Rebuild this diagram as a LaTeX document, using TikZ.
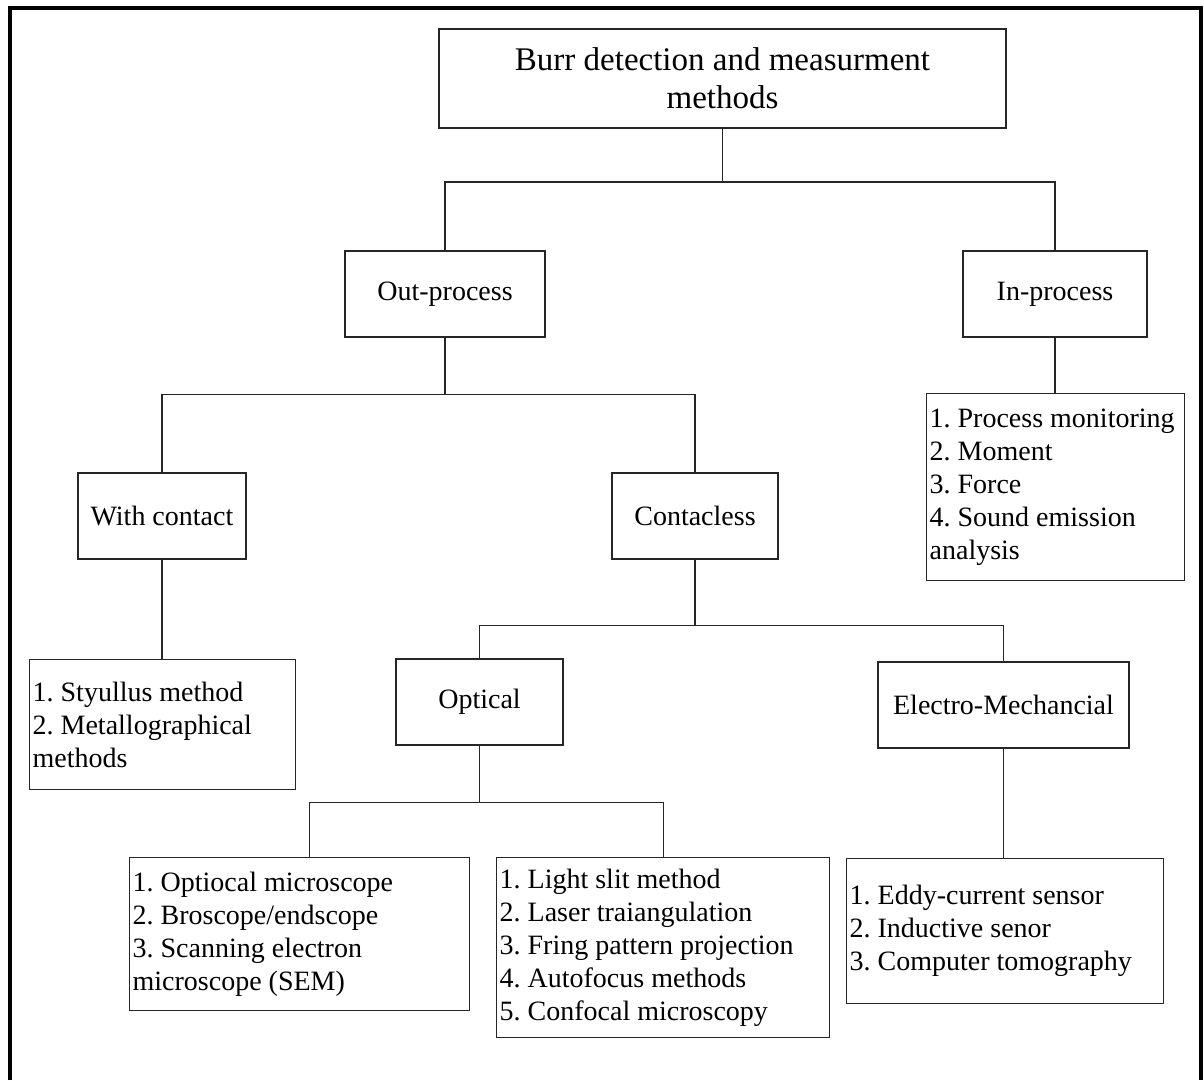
\documentclass[tikz,border=0pt]{standalone}
\usepackage{fontspec}
\setmainfont{Liberation Serif}

\begin{document}
\begin{tikzpicture}[x=1pt,y=-1pt,
  box/.style={draw=black!85, line width=1.3pt, inner sep=0pt, font=\fontsize{28}{33}\selectfont\frenchspacing},
  listbox/.style={box, align=flush left, inner xsep=3pt, anchor=north west},
  link/.style={draw=black!85, line width=1.3pt}]
\useasboundingbox (0,0) rectangle (1204,1080);
% frame
\draw [line width=4.5pt] (10,1080) -- (10,8) -- (1201,8) -- (1201,1080);
% boxes
\node [box, font=\fontsize{33}{38}\selectfont, align=center, minimum width=567pt, minimum height=99pt] (root) at (722.5,78.5) {Burr detection and measurment\\methods};
\node [box, minimum width=200pt, minimum height=86pt] (out) at (445,294) {Out-process};
\node [box, minimum width=184pt, minimum height=86pt] (in) at (1055,294) {In-process};
\node [box, minimum width=168pt, minimum height=86pt] (withc) at (162,516) {With contact};
\node [box, minimum width=166pt, minimum height=86pt] (contl) at (695,516) {Contacless};
\node [box, minimum width=167pt, minimum height=86pt] (optic) at (479.5,702) {Optical};
\node [box, minimum width=251pt, minimum height=86pt] (elec) at (1003.5,705) {Electro-Mechancial};
\node [listbox, text width=252pt, minimum height=187pt] (inlist) at (926,393) {1. Process monitoring\\2. Moment\\3. Force\\4. Sound emission\\analysis};
\node [listbox, text width=260pt, minimum height=130pt] (styl) at (29,659) {1. Styullus method\\2. Metallographical\\methods};
\node [listbox, text width=334pt, minimum height=153pt] (opl) at (129,857) {1. Optiocal microscope\\2. Broscope/endscope\\3. Scanning electron\\microscope (SEM)};
\node [listbox, text width=327pt, minimum height=180pt] (opr) at (496,857) {1. Light slit method\\2. Laser traiangulation\\3. Fring pattern projection\\4. Autofocus methods\\5. Confocal microscopy};
\node [listbox, text width=311pt, minimum height=145pt] (emlist) at (846,858) {1. Eddy-current sensor\\2. Inductive senor\\3. Computer tomography};
% junctions
\coordinate (top-j) at (722.5,182);
\path (out.south) ++(0,57) coordinate (out-j);
\path (contl.south) ++(0,66) coordinate (con-j);
\path (optic.south) ++(0,57) coordinate (opt-j);
% connectors
\draw [link] (root.south) -- (top-j);
\draw [link] (out.north) |- (top-j) -| (in.north);
\draw [link] (in.south) -- (in.south |- inlist.north);
\draw [link] (out.south) -- (out-j);
\draw [link] (withc.north) |- (out-j) -| (contl.north);
\draw [link] (withc.south) -- (withc.south |- styl.north);
\draw [link] (contl.south) -- (con-j);
\draw [link] (optic.north) |- (con-j) -| (elec.north);
\draw [link] (optic.south) -- (opt-j);
\draw [link] ([xshift=10pt]opl.north) |- (opt-j) -| (opr.north);
\draw [link] (elec.south) -- (elec.south |- emlist.north);
\end{tikzpicture}
\end{document}
